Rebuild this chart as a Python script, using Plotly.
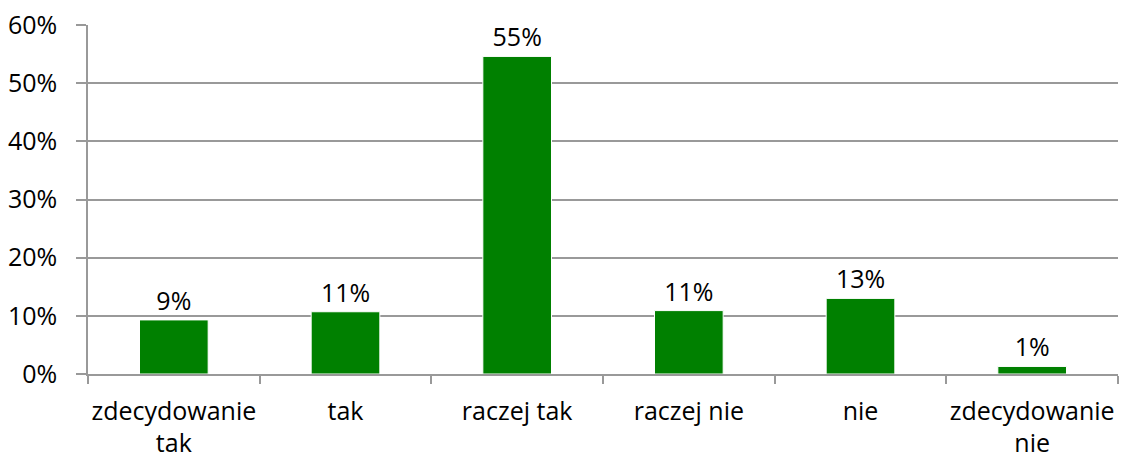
import plotly.graph_objects as go

categories = ["zdecydowanie<br>tak", "tak", "raczej tak", "raczej nie", "nie", "zdecydowanie<br>nie"]
values = [0.093, 0.107, 0.546, 0.109, 0.130, 0.013]
y_ticks = [0, 0.1, 0.2, 0.3, 0.4, 0.5, 0.6]

font = dict(family="Open Sans, Noto Sans, sans-serif", size=25, color="#000000")

fig = go.Figure()
fig.add_trace(go.Bar(
    x=categories, y=values,
    marker=dict(color="#008000", line=dict(color="#ffffff", width=1)),
    width=0.4,
    text=[f"{round(v*100)}%" for v in values],
    textposition="outside",
    textfont=font,
    constraintext="none",
    cliponaxis=False,
))
fig.update_layout(
    width=1124, height=458,
    margin=dict(l=88, r=6, t=25, b=84),
    paper_bgcolor="white", plot_bgcolor="white",
    font=font,
    showlegend=False,
    uniformtext=dict(mode=False),
)
fig.update_yaxes(
    range=[0, 0.6], tickvals=y_ticks, tickformat=".0%",
    showgrid=True, gridcolor="#999999", gridwidth=1.5,
    showline=True, linecolor="#999999", linewidth=1.5,
    ticks="outside", ticklen=10, tickcolor="#999999", tickwidth=1.5,
    ticklabelstandoff=14,
    zeroline=False, automargin=False,
)
fig.update_xaxes(
    showline=True, linecolor="#999999", linewidth=1.5,
    ticks="outside", tickson="boundaries", ticklen=8, tickcolor="#999999", tickwidth=1.5,
    ticklabelstandoff=14, tickangle=0,
    showgrid=False, automargin=False,
)
fig.write_html("out.html", config={"displayModeBar": False},
               post_script="document.body.style.margin='0';")
